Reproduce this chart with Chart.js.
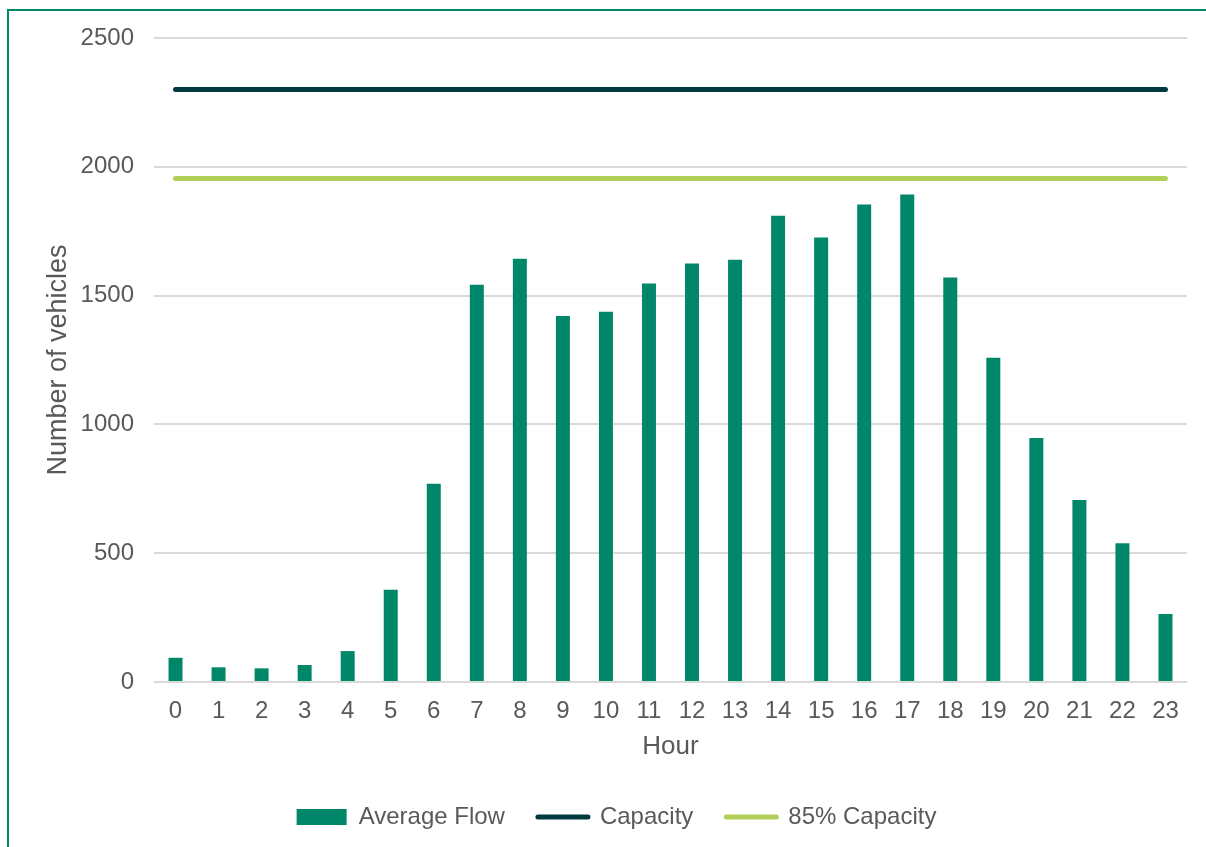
<!DOCTYPE html>
<html>
<head>
<meta charset="utf-8">
<script src="https://cdn.jsdelivr.net/npm/chart.js@4"></script>
<style>
  html, body { margin: 0; padding: 0; background: #ffffff; overflow: hidden; }
  #frame { position: absolute; left: 7px; top: 9px; width: 3000px; height: 3000px;
           border-left: 2px solid #008768; border-top: 2px solid #008768; }
  #c { position: absolute; left: 0; top: 0; }
</style>
</head>
<body>
<div id="frame"></div>
<canvas id="c" width="1206" height="847"></canvas>
<script>
const hours = ['0','1','2','3','4','5','6','7','8','9','10','11','12','13','14','15','16','17','18','19','20','21','22','23'];
const averageFlow = [94, 57, 53, 66, 120, 358, 770, 1542, 1643, 1421, 1437, 1547, 1625, 1639, 1810, 1726, 1854, 1892, 1570, 1259, 947, 707, 539, 264];
const capacity = [2300,2300,2300,2300,2300,2300,2300,2300,2300,2300,2300,2300,2300,2300,2300,2300,2300,2300,2300,2300,2300,2300,2300,2300];
const capacity85 = [1955,1955,1955,1955,1955,1955,1955,1955,1955,1955,1955,1955,1955,1955,1955,1955,1955,1955,1955,1955,1955,1955,1955,1955];
const yTicks = [0, 500, 1000, 1500, 2000, 2500];

const FONT = "'Liberation Sans', Arial, sans-serif";
const TXT = '#595959';
const PAD_LEFT = 46;

new Chart(document.getElementById('c'), {
  data: {
    labels: hours,
    datasets: [
      { type: 'bar', label: 'Average Flow', data: averageFlow, backgroundColor: '#00876A',
        borderWidth: 0, barPercentage: 0.325, categoryPercentage: 1.0, order: 3 },
      { type: 'line', label: 'Capacity', data: capacity, borderColor: '#003A40', backgroundColor: '#003A40',
        borderWidth: 5, borderCapStyle: 'round', pointRadius: 0, pointHoverRadius: 0, fill: false, order: 1 },
      { type: 'line', label: '85% Capacity', data: capacity85, borderColor: '#B2CF57', backgroundColor: '#B2CF57',
        borderWidth: 5, borderCapStyle: 'round', pointRadius: 0, pointHoverRadius: 0, fill: false, order: 2 }
    ]
  },
  options: {
    responsive: false,
    animation: false,
    devicePixelRatio: 1,
    layout: { padding: { top: 38, right: 19, bottom: 8, left: PAD_LEFT } },
    plugins: {
      tooltip: { enabled: false },
      legend: {
        position: 'bottom',
        labels: {
          usePointStyle: true,
          pointStyleWidth: 50,
          boxHeight: 16,
          padding: 33,
          color: TXT,
          font: { family: FONT, size: 24 },
          generateLabels(chart) {
            return chart.data.datasets.map((ds, i) => ({
              text: ds.label,
              fillStyle: i === 0 ? ds.backgroundColor : 'rgba(0,0,0,0)',
              strokeStyle: ds.borderColor || ds.backgroundColor,
              lineWidth: i === 0 ? 0 : 5,
              lineCap: 'round',
              pointStyle: i === 0 ? 'rect' : 'line',
              fontColor: TXT,
              hidden: false,
              datasetIndex: i
            }));
          }
        }
      }
    },
    scales: {
      x: {
        offset: true,
        grid: { display: false, drawTicks: false },
        border: { display: false },
        ticks: { color: TXT, font: { family: FONT, size: 24 }, padding: 15, maxRotation: 0 },
        title: { display: true, text: 'Hour', color: TXT, font: { family: FONT, size: 26 }, padding: { top: 0, bottom: 10 } },
        afterFit(scale) { scale.height = 90; }
      },
      y: {
        min: 0, max: 2500,
        afterBuildTicks(scale) { scale.ticks = yTicks.map(v => ({ value: v })); },
        grid: { color: '#D9D9D9', lineWidth: 2, drawTicks: false },
        border: { display: false },
        ticks: { color: TXT, font: { family: FONT, size: 24 }, padding: 20, callback: (v) => String(v) },
        title: { display: true, text: 'Number of vehicles', color: TXT, font: { family: FONT, size: 27 }, padding: { top: -4, bottom: 0 } },
        afterFit(scale) { scale.width = 154 - PAD_LEFT; }
      }
    }
  }
});
</script>
</body>
</html>
